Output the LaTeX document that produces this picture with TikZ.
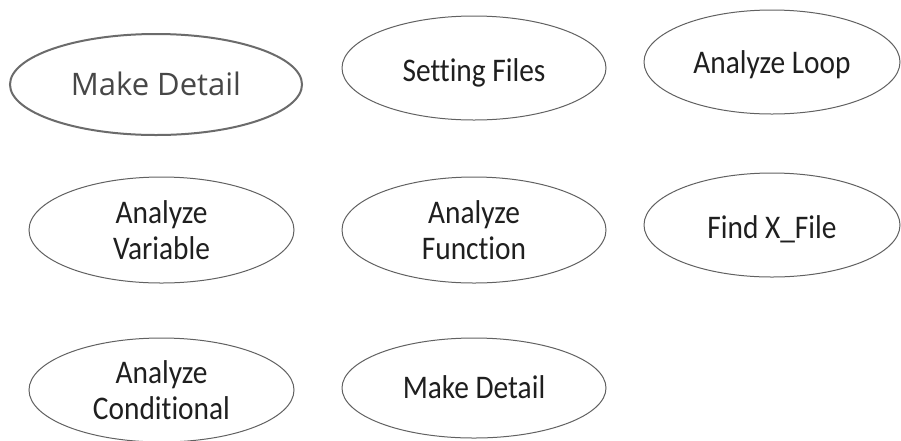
\documentclass[tikz,border=0pt]{standalone}
\usepackage{fontspec}
\setmainfont{Carlito}[FakeStretch=0.89, Ligatures=CommonOff]
\newfontfamily\opensans{Open Sans}
\usetikzlibrary{shapes.geometric}
\begin{document}
\begin{tikzpicture}[x=1pt,y=-1pt,
  oval/.style={ellipse, draw=black!62, line width=1pt, inner sep=0pt, align=center,
    font=\fontsize{33}{36}\selectfont, text=black!88},
  oneline/.style={text height=#1, text depth=0pt},
  oneline/.default=21.3pt,
  bigoval/.style={ellipse, draw=black!58, line width=2pt, inner sep=0pt, align=center,
    font=\opensans\fontsize{31}{37}\selectfont, text=black!72,
    text height=22pt, text depth=0pt}]
\useasboundingbox[fill=white] (0,0) rectangle (901,440);
\node[bigoval, minimum width=292pt, minimum height=101pt] (md1) at (156,84.5) {Make Detail};
\node[oval, oneline=27pt, minimum width=264pt, minimum height=104pt] (sf) at (474,68) {Setting Files};
\node[oval, oneline=23pt, minimum width=256pt, minimum height=104pt] (al) at (772,62) {Analyze Loop};
\node[oval, minimum width=265pt, minimum height=106pt] (av) at (161.5,230) {Analyze\\Variable};
\node[oval, minimum width=264pt, minimum height=106pt] (af) at (474,230) {Analyze\\Function};
\node[oval, oneline=26pt, minimum width=256pt, minimum height=104pt] (fx) at (772,225) {Find X\_File};
\node[oval, minimum width=265pt, minimum height=104pt] (ac) at (161.5,390) {Analyze\\Conditional};
\node[oval, oneline, minimum width=264pt, minimum height=100pt] (md2) at (474,388) {Make Detail};
\end{tikzpicture}
\end{document}
